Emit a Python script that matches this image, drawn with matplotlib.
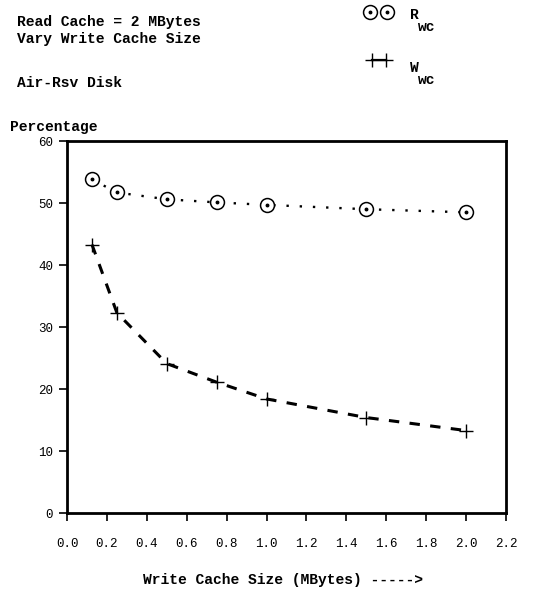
import matplotlib
matplotlib.use("Agg")
import matplotlib.pyplot as plt
from matplotlib.lines import Line2D

# write cache sizes (MBytes) and percentages for each measure
cache_size = [0.125, 0.25, 0.5, 0.75, 1.0, 1.5, 2.0]
r_wc = [53.8, 51.7, 50.6, 50.1, 49.7, 49.0, 48.5]
w_wc = [43.3, 32.3, 24.1, 21.1, 18.4, 15.4, 13.3]

x_ticks = [0.0, 0.2, 0.4, 0.6, 0.8, 1.0, 1.2, 1.4, 1.6, 1.8, 2.0, 2.2]
y_ticks = [0, 10, 20, 30, 40, 50, 60]

MONO = "Liberation Mono"
DOTTED = (0, (1, 4.6))
DASHED = (0, (3.4, 3.4))

fig = plt.figure(figsize=(5.34, 5.92), dpi=100)
ax = fig.add_axes([0.1255, 0.1334, 0.822, 0.6284])

# R_wc: dotted line, open circles with a centre dot
ax.plot(cache_size, r_wc, color="black", linestyle=DOTTED, linewidth=1.7)
ax.plot(cache_size, r_wc, linestyle="none", marker="o", markersize=10,
        markerfacecolor="white", markeredgecolor="black", markeredgewidth=1.1)
ax.plot(cache_size, r_wc, linestyle="none", marker="o", markersize=1.8,
        color="black")

# W_wc: dashed line with plus markers
ax.plot(cache_size, w_wc, color="black", linestyle=DASHED, linewidth=2.2)
ax.plot(cache_size, w_wc, linestyle="none", color="black",
        marker="+", markersize=10, markeredgewidth=1.0)

ax.set_xlim(0, 2.2)
ax.set_ylim(0, 60)
ax.set_xticks(x_ticks)
ax.set_yticks(y_ticks)
ax.set_xticklabels([f"{v:.1f}" for v in x_ticks], fontfamily=MONO, fontsize=9)
ax.set_yticklabels([str(v) for v in y_ticks], fontfamily=MONO, fontsize=9)
ax.tick_params(axis="both", direction="out", length=6, width=1.2)
ax.tick_params(axis="x", pad=12)
ax.tick_params(axis="y", pad=4)
for s in ax.spines.values():
    s.set_linewidth(2)


def fx(px):
    return px / 534


def fy(py):
    return 1 - py / 592


bold = dict(fontfamily=MONO, fontweight="bold", fontsize=10.5)
fig.text(fx(17), fy(22), "Read Cache = 2 MBytes", va="center", **bold)
fig.text(fx(17), fy(39), "Vary Write Cache Size", va="center", **bold)
fig.text(fx(17), fy(83), "Air-Rsv Disk", va="center", **bold)
fig.text(fx(10), fy(127), "Percentage", va="center", **bold)
fig.text(fx(283), fy(580), "Write Cache Size (MBytes) ----->", ha="center",
         va="center", **bold)

# legend drawn in figure coordinates
for px in (370, 387):
    fig.add_artist(Line2D([fx(px)], [fy(12)], marker="o", markersize=10,
                          markerfacecolor="white", markeredgecolor="black",
                          markeredgewidth=1.1, transform=fig.transFigure))
    fig.add_artist(Line2D([fx(px)], [fy(12)], marker="o", markersize=1.8,
                          color="black", transform=fig.transFigure))
fig.add_artist(Line2D([fx(372), fx(386)], [fy(60), fy(60)], color="black",
                      linewidth=1.6, marker="+", markersize=10,
                      markeredgewidth=1.0, transform=fig.transFigure))

fig.text(fx(410), fy(15), "R", va="center", ha="left", **bold)
fig.text(fx(418), fy(27), "wc", va="center", ha="left", **bold)
fig.text(fx(410), fy(68), "W", va="center", ha="left", **bold)
fig.text(fx(418), fy(80), "wc", va="center", ha="left", **bold)

fig.savefig("out.png", dpi=100)
